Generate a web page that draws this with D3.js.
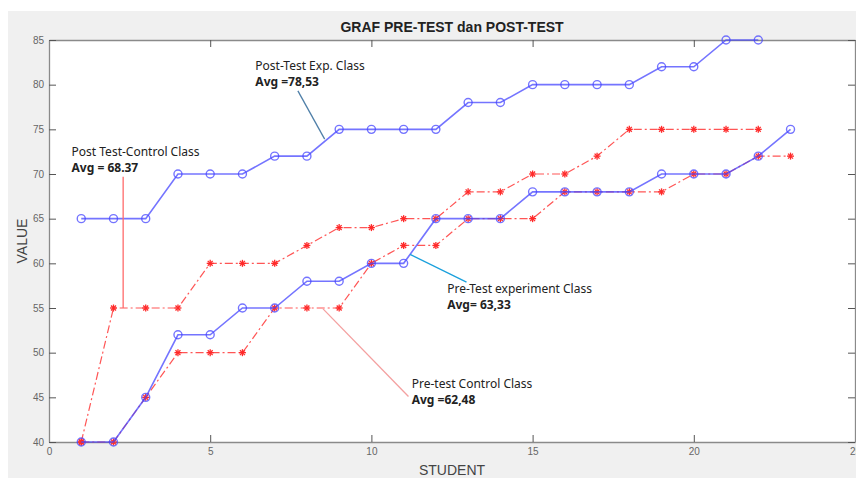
<!doctype html>
<html lang=en>

<head>
  <meta charset=utf-8>
  <title>GRAF PRE-TEST dan POST-TEST</title>
  <style>
    body { margin: 0; background: #fff; }
    text { font-family: "Liberation Sans", Arial, sans-serif; }
  </style>
</head>

<body>
  <svg></svg>
  <script src="https://cdn.jsdelivr.net/npm/d3@7"></script>
  <script>
    var width = 856;
    var height = 478;

    // scores per student
    var postExp = [65, 65, 65, 70, 70, 70, 72, 72, 75, 75, 75, 75, 78, 78, 80, 80, 80, 80, 82, 82, 85, 85];
    var preExp = [40, 40, 45, 52, 52, 55, 55, 58, 58, 60, 60, 65, 65, 65, 68, 68, 68, 68, 70, 70, 70, 72, 75];
    var postCtrl = [40, 55, 55, 55, 60, 60, 60, 62, 64, 64, 65, 65, 68, 68, 70, 70, 72, 75, 75, 75, 75, 75];
    var preCtrl = [40, 40, 45, 50, 50, 50, 55, 55, 55, 60, 62, 62, 65, 65, 65, 68, 68, 68, 68, 70, 70, 72, 72];

    var xTicks = [0, 5, 10, 15, 20, 25];
    var yTicks = [40, 45, 50, 55, 60, 65, 70, 75, 80, 85];

    // annotations: label, average, leader from/to [student, value], text position
    var notes = [
      { label: "Post-Test Exp. Class", avg: "Avg =78,53", from: [8.55, 73.9], to: [7.72, 79.3], tx: 6.4, ty: 81.6, color: "#4f7fa8" },
      { label: "Post Test-Control Class", avg: "Avg = 68.37", from: [2.3, 55], to: [2.3, 69.7], tx: 0.7, ty: 72.0, color: "#ff6b6b" },
      { label: "Pre-Test experiment Class", avg: "Avg= 63,33", from: [11.2, 61.0], to: [12.95, 57.9], tx: 12.35, ty: 56.7, color: "#1aa0dc" },
      { label: "Pre-test Control Class", avg: "Avg =62,48", from: [8.5, 54.9], to: [11.15, 45.1], tx: 11.25, ty: 46.1, color: "#f4a0a0" }
    ];

    var margin = { left: 49, right: 0, top: 40, bottom: 36 };

    var svg = d3.select("svg")
      .attr("width", width)
      .attr("height", height);

    svg.append("rect")
      .attr("x", 8).attr("y", 11)
      .attr("width", width - 8).attr("height", height - 11)
      .attr("fill", "#f0f0f0");

    var x = d3.scaleLinear()
      .domain([0, 25])
      .range([margin.left, 855]);

    var y = d3.scaleLinear()
      .domain([40, 85])
      .range([height - margin.bottom, margin.top]);

    svg.append("rect")
      .attr("x", x(0)).attr("y", y(85))
      .attr("width", x(25) - x(0)).attr("height", y(40) - y(85))
      .attr("fill", "#fff");

    // axes, MATLAB style: ticks pointing inward on all four sides
    var axisStyle = function (g) {
      g.select(".domain").attr("stroke", "#8a8a8a").attr("stroke-width", 1.3);
      g.selectAll(".tick line").attr("stroke", "#555");
      g.selectAll(".tick text").attr("fill", "#666").style("font-size", "10px");
    };

    svg.append("g")
      .attr("transform", "translate(0," + y(40) + ")")
      .call(d3.axisBottom(x).tickValues(xTicks).tickSizeInner(-7).tickSizeOuter(0).tickPadding(6))
      .call(axisStyle);

    svg.append("g")
      .attr("transform", "translate(0," + y(85) + ")")
      .call(d3.axisTop(x).tickValues(xTicks).tickSizeInner(-7).tickSizeOuter(0).tickFormat(""))
      .call(axisStyle);

    svg.append("g")
      .attr("transform", "translate(" + x(0) + ",0)")
      .call(d3.axisLeft(y).tickValues(yTicks).tickSizeInner(-7).tickSizeOuter(0).tickPadding(5))
      .call(axisStyle);

    svg.append("g")
      .attr("transform", "translate(" + x(25) + ",0)")
      .call(d3.axisRight(y).tickValues(yTicks).tickSizeInner(-7).tickSizeOuter(0).tickFormat(""))
      .call(axisStyle);

    var line = d3.line()
      .x(function (d, i) { return x(i + 1); })
      .y(function (d) { return y(d); });

    var blue = "rgba(70,70,255,0.75)";
    var red = "#ff2a2a";

    function drawRed(data) {
      svg.append("path")
        .datum(data)
        .attr("fill", "none")
        .attr("stroke", red)
        .attr("stroke-opacity", 0.8)
        .attr("stroke-width", 1.2)
        .attr("stroke-dasharray", "8,3,2,3")
        .attr("d", line);
      var star = svg.append("g").selectAll("g")
        .data(data)
        .join("g")
        .attr("transform", function (d, i) { return "translate(" + x(i + 1) + "," + y(d) + ")"; })
        .attr("stroke", red)
        .attr("stroke-width", 1.3);
      [0, 45, 90, 135].forEach(function (a) {
        star.append("line")
          .attr("x1", -3.5).attr("x2", 3.5)
          .attr("transform", "rotate(" + a + ")");
      });
    }

    function drawBlue(data) {
      svg.append("path")
        .datum(data)
        .attr("fill", "none")
        .attr("stroke", blue)
        .attr("stroke-width", 1.6)
        .attr("d", line);
      svg.append("g").selectAll("circle")
        .data(data)
        .join("circle")
        .attr("cx", function (d, i) { return x(i + 1); })
        .attr("cy", function (d) { return y(d); })
        .attr("r", 4)
        .attr("fill", "none")
        .attr("stroke", blue)
        .attr("stroke-width", 1.4);
    }

    drawRed(postCtrl);
    drawRed(preCtrl);
    drawBlue(postExp);
    drawBlue(preExp);

    // annotation leaders + text
    notes.forEach(function (n) {
      svg.append("line")
        .attr("x1", x(n.from[0])).attr("y1", y(n.from[1]))
        .attr("x2", x(n.to[0])).attr("y2", y(n.to[1]))
        .attr("stroke", n.color)
        .attr("stroke-width", 1.3);
      var t = svg.append("text")
        .attr("x", x(n.tx))
        .attr("y", y(n.ty))
        .style("font-family", "'Noto Sans', sans-serif")
        .style("font-size", "12px")
        .attr("fill", "#222");
      t.append("tspan").text(n.label);
      t.append("tspan")
        .attr("x", x(n.tx))
        .attr("dy", 16)
        .style("font-weight", "bold")
        .text(n.avg);
    });

    svg.append("text")
      .attr("x", (x(0) + x(25)) / 2)
      .attr("y", 32)
      .attr("text-anchor", "middle")
      .style("font-size", "14px")
      .style("font-weight", "bold")
      .attr("fill", "#222")
      .text("GRAF PRE-TEST dan POST-TEST");

    svg.append("text")
      .attr("x", (x(0) + x(25)) / 2)
      .attr("y", 475)
      .attr("text-anchor", "middle")
      .style("font-size", "14px")
      .attr("fill", "#444")
      .text("STUDENT");

    svg.append("text")
      .attr("transform", "translate(27," + (y(62.5)) + ") rotate(-90)")
      .attr("text-anchor", "middle")
      .style("font-size", "14px")
      .attr("fill", "#444")
      .text("VALUE");
  </script>
</body>

</html>
